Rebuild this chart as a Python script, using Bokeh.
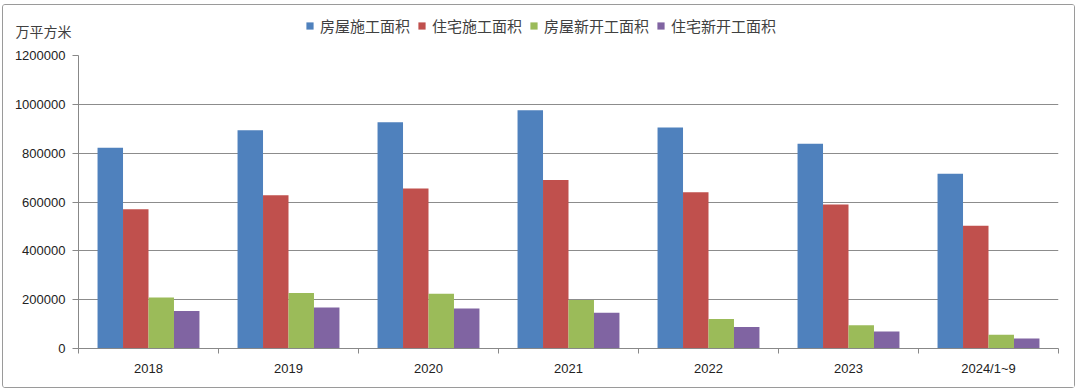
from bokeh.plotting import figure
from bokeh.layouts import column
from bokeh.models import (Range1d, FixedTicker, ColumnDataSource, Legend, LegendItem,
                          Label, NumeralTickFormatter)
from bokeh.embed import file_html
from bokeh.resources import INLINE

categories = ["2018", "2019", "2020", "2021", "2022", "2023", "2024/1~9"]
series_names = ["房屋施工面积", "住宅施工面积", "房屋新开工面积", "住宅新开工面积"]
house_construction = [822300, 893821, 926759, 975387, 904999, 838364, 716019]
residential_construction = [569987, 627673, 655558, 690319, 639696, 589884, 502803]
house_new_start = [209342, 227154, 224433, 198895, 120587, 95376, 56051]
residential_new_start = [153353, 167463, 164329, 146379, 88135, 69286, 41263]
y_ticks = [0, 200000, 400000, 600000, 800000, 1000000, 1200000]
unit_label = "万平方米"

colors = ["#4F81BD", "#C0504D", "#9BBB59", "#8064A2"]
series = [house_construction, residential_construction, house_new_start, residential_new_start]

W = 1071
HEAD_H = 40
MAIN_H = 342
n = len(categories)
centers = [i + 0.5 for i in range(n)]

# ---- header (legend + unit label) ----
head = figure(width=W, height=HEAD_H, output_backend="svg", toolbar_location=None,
              x_range=Range1d(0, W), y_range=Range1d(0, HEAD_H),
              min_border_left=0, min_border_right=0, min_border_top=0, min_border_bottom=0,
              frame_align=False)
head.axis.visible = False
head.grid.grid_line_color = None
head.outline_line_color = None
head.border_fill_color = "white"
head.background_fill_color = "white"

items = []
for name, vals, col in zip(series_names, series, colors):
    # zero-width proxy renderer (draws nothing) so the legend has a swatch to show
    src = ColumnDataSource(dict(x=centers, top=vals))
    r = head.vbar(x="x", top="top", bottom=0, width=0, source=src,
                  fill_color=col, line_color=None)
    items.append(LegendItem(label=name, renderers=[r]))

legend = Legend(items=items, orientation="horizontal", location=(302, 9),
                glyph_width=9, glyph_height=9, label_standoff=6, spacing=7,
                padding=0, margin=0, border_line_color=None, background_fill_alpha=0,
                label_text_font="Noto Sans CJK SC", label_text_font_size="15px",
                label_text_color="#404040")
head.add_layout(legend, "center")

unit = Label(x=12, y=15, x_units="screen", y_units="screen", text=unit_label,
             text_font="Noto Sans CJK SC", text_font_size="14px", text_color="#404040",
             text_baseline="middle")
head.add_layout(unit)

# ---- main chart ----
p = figure(width=W, height=MAIN_H, output_backend="svg", toolbar_location=None,
           x_range=Range1d(0, n), y_range=Range1d(0, 1200000),
           min_border_left=75, min_border_right=16, min_border_top=10, min_border_bottom=39,
           frame_align=False)
p.outline_line_color = None
p.background_fill_color = "white"
p.border_fill_color = "white"

bar_w = 0.182
offsets = [-1.5 * bar_w, -0.5 * bar_w, 0.5 * bar_w, 1.5 * bar_w]
for vals, col, off in zip(series, colors, offsets):
    src = ColumnDataSource(dict(x=[c + off for c in centers], top=vals))
    p.vbar(x="x", top="top", width=bar_w, bottom=0, source=src,
           fill_color=col, line_color=None)

p.yaxis.ticker = FixedTicker(ticks=y_ticks)
p.yaxis.formatter = NumeralTickFormatter(format="0")
p.yaxis.axis_line_color = "#888888"
p.yaxis.major_tick_line_color = "#888888"
p.yaxis.major_tick_out = 6
p.yaxis.major_tick_in = 0
p.yaxis.minor_tick_line_color = None
p.yaxis.major_label_standoff = 7
p.yaxis.major_label_text_font = "Liberation Sans"
p.yaxis.major_label_text_font_size = "13px"
p.yaxis.major_label_text_color = "#222222"

p.xaxis.ticker = FixedTicker(ticks=centers, minor_ticks=list(range(n + 1)))
p.xaxis.major_label_overrides = {c: lab for c, lab in zip(centers, categories)}
p.xaxis.axis_line_color = "#888888"
p.xaxis.major_tick_line_color = None
p.xaxis.major_tick_out = 0
p.xaxis.major_tick_in = 0
p.xaxis.minor_tick_line_color = "#888888"
p.xaxis.minor_tick_out = 5
p.xaxis.minor_tick_in = 0
p.xaxis.major_label_standoff = 7
p.xaxis.major_label_text_font = "Liberation Sans"
p.xaxis.major_label_text_font_size = "13px"
p.xaxis.major_label_text_color = "#222222"

p.xgrid.grid_line_color = None
p.ygrid.ticker = FixedTicker(ticks=y_ticks)
p.ygrid.grid_line_color = "#8c8c8c"
p.ygrid.grid_line_width = 1

layout = column(head, p, spacing=0)
layout.styles = {"border": "1px solid #9a9a9a", "border-radius": "3px",
                 "margin-left": "2px", "margin-top": "4px"}

open("out.html", "w").write(file_html(layout, INLINE))
